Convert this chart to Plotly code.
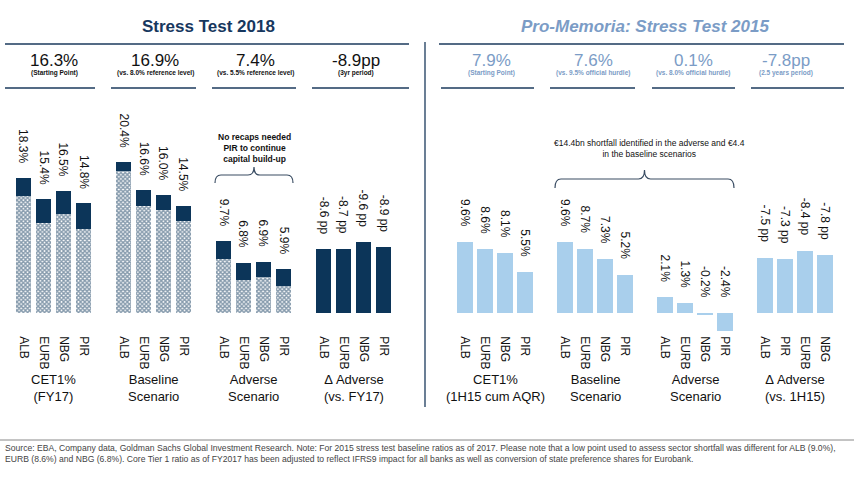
import plotly.graph_objects as go

W, H = 854, 500

banks = ["ALB", "EURB", "NBG", "PIR"]
banks_2015_delta = ["ALB", "PIR", "EURB", "NBG"]

# Stress Test 2018 (totals and hatched lower portion)
cet1_2018 = [18.3, 15.4, 16.5, 14.8]
cet1_2018_hatched = [15.8, 12.2, 13.4, 11.4]
baseline_2018 = [20.4, 16.6, 16.0, 14.5]
baseline_2018_hatched = [19.2, 14.5, 13.9, 12.4]
adverse_2018 = [9.7, 6.8, 6.9, 5.9]
adverse_2018_hatched = [7.3, 4.5, 4.9, 3.6]
delta_2018 = [-8.6, -8.7, -9.6, -8.9]

# Stress Test 2015
cet1_2015 = [9.6, 8.6, 8.1, 5.5]
baseline_2015 = [9.6, 8.7, 7.3, 5.2]
adverse_2015 = [2.1, 1.3, -0.2, -2.4]
delta_2015 = [-7.5, -7.3, -8.4, -7.8]

groups_2018 = ["CET1%<br>(FY17)", "Baseline<br>Scenario", "Adverse<br>Scenario", "Δ Adverse<br>(vs. FY17)"]
groups_2015 = ["CET1%<br>(1H15 cum AQR)", "Baseline<br>Scenario", "Adverse<br>Scenario", "Δ Adverse<br>(vs. 1H15)"]

kpi_2018 = ["16.3%", "16.9%", "7.4%", "-8.9pp"]
kpi_2018_sub = ["(Starting Point)", "(vs. 8.0% reference level)", "(vs. 5.5% reference level)", "(3yr period)"]
kpi_2015 = ["7.9%", "7.6%", "0.1%", "-7.8pp"]
kpi_2015_sub = ["(Starting Point)", "(vs. 9.5% official hurdle)", "(vs. 8.0% official hurdle)", "(2.5 years period)"]

note_2018 = "No recaps needed<br>PIR to continue<br>capital build-up"
note_2015 = "€14.4bn shortfall identified in the adverse and €4.4<br>in the baseline scenarios"
source = ("Source: EBA, Company data, Goldman Sachs Global Investment Research. Note: For 2015 stress test baseline ratios as of 2017. "
          "Please note that a low point used to assess sector shortfall was different for ALB (9.0%),<br>"
          "EURB (8.6%) and NBG (6.8%). Core Tier 1 ratio as of FY2017 has been adjusted to reflect IFRS9 impact for all banks "
          "as well as conversion of state preference shares for Eurobank.")

NAVY = "#0c3559"
LIGHT = "#a9cfec"
STEEL = "#7b9cc6"
LINE = "#1b3a5c"
FONT = "Liberation Sans"

def px(x):
    return x / W

def py(y):
    return 1 - y / H

def pos(g, b):
    return g * 5 + b

fig = go.Figure()

hatch = dict(shape="x", size=3, solidity=0.7, fgcolor=NAVY, bgcolor="white")
annotations = []

def paper_text(x, y, text, size, color, family=FONT, **kw):
    d = dict(x=px(x), y=py(y), xref="paper", yref="paper", text=text, showarrow=False,
             xanchor="center", yanchor="middle", font=dict(family=family, size=size, color=color))
    d.update(kw)
    annotations.append(d)

def value_label(xref, x, y, text):
    annotations.append(dict(x=x, y=y, xref=xref, yref="y", text=text, textangle=90,
                            xanchor="center", yanchor="bottom", yshift=13, showarrow=False,
                            font=dict(family=FONT, size=12, color="#111")))

# left panel stacked bars
for g, (tot, hat) in enumerate([(cet1_2018, cet1_2018_hatched),
                                 (baseline_2018, baseline_2018_hatched),
                                 (adverse_2018, adverse_2018_hatched)]):
    xs = [pos(g, b) for b in range(4)]
    fig.add_trace(go.Bar(x=xs, y=hat, width=0.78, marker=dict(color="white", pattern=hatch, line_width=0),
                         xaxis="x", yaxis="y", showlegend=False, hoverinfo="skip"))
    fig.add_trace(go.Bar(x=xs, y=[t - h for t, h in zip(tot, hat)], width=0.78,
                         marker=dict(color=NAVY, line_width=0),
                         xaxis="x", yaxis="y", showlegend=False, hoverinfo="skip"))
    for b in range(4):
        value_label("x", xs[b], tot[b], f"{tot[b]:.1f}%")

xs = [pos(3, b) for b in range(4)]
fig.add_trace(go.Bar(x=xs, y=[abs(v) for v in delta_2018], width=0.78, marker=dict(color=NAVY, line_width=0),
                     xaxis="x", yaxis="y", showlegend=False, hoverinfo="skip"))
for b in range(4):
    value_label("x", xs[b], abs(delta_2018[b]), f"{delta_2018[b]:.1f} pp")

# right panel bars
for g, vals in enumerate([cet1_2015, baseline_2015, adverse_2015]):
    xs = [pos(g, b) for b in range(4)]
    fig.add_trace(go.Bar(x=xs, y=vals, width=0.78, marker=dict(color=LIGHT, line_width=0),
                         xaxis="x2", yaxis="y", showlegend=False, hoverinfo="skip"))
    for b in range(4):
        value_label("x2", xs[b], max(vals[b], 0), f"{vals[b]:.1f}%")
xs = [pos(3, b) for b in range(4)]
fig.add_trace(go.Bar(x=xs, y=[abs(v) for v in delta_2015], width=0.78, marker=dict(color=LIGHT, line_width=0),
                     xaxis="x2", yaxis="y", showlegend=False, hoverinfo="skip"))
for b in range(4):
    value_label("x2", xs[b], abs(delta_2015[b]), f"{delta_2015[b]:.1f} pp")

# group labels
for g in range(4):
    for xref, labels in (("x", groups_2018), ("x2", groups_2015)):
        annotations.append(dict(x=pos(g, 1.5), y=py(388), xref=xref, yref="paper", text=labels[g],
                                showarrow=False, xanchor="center", yanchor="middle",
                                font=dict(family=FONT, size=13, color="#111")))

# titles
paper_text(208, 26, "<b>Stress Test 2018</b>", 17, "#17375e")
paper_text(645, 26, "<b><i>Pro-Memoria: Stress Test 2015</i></b>", 17, STEEL)

# KPI headers
kpi_x_2018 = [54, 155, 255, 356]
kpi_x_2015 = [491, 593, 693, 786]
for i in range(4):
    paper_text(kpi_x_2018[i], 60, kpi_2018[i], 17, "#111")
    paper_text(kpi_x_2018[i], 72.5, f"<b>{kpi_2018_sub[i]}</b>", 6.5, "#111")
    paper_text(kpi_x_2015[i], 60, kpi_2015[i], 17, STEEL)
    paper_text(kpi_x_2015[i], 72.5, f"<b>{kpi_2015_sub[i]}</b>", 6.5, STEEL)

# brace notes
paper_text(254, 148, f"<b>{note_2018}</b>", 8.5, "#111")
paper_text(649, 148, note_2015, 8.5, "#111")

# footer
paper_text(3, 441, source, 8.6, "#444", align="left", xanchor="left", yanchor="top")

shapes = []
def hline(x0, x1, y, color=LINE, width=1.3):
    shapes.append(dict(type="line", xref="paper", yref="paper", x0=px(x0), x1=px(x1), y0=py(y), y1=py(y),
                       line=dict(color=color, width=width)))

hline(5, 409, 44)
hline(439, 844, 44)
for a, b in [(5, 95), (111, 196), (212, 296), (312, 409), (441, 534), (550, 635), (652, 735), (751, 844)]:
    hline(a, b, 88)
hline(0, 854, 440, color="#888", width=1)
shapes.append(dict(type="line", xref="paper", yref="paper", x0=px(425), x1=px(425), y0=py(42), y1=py(407),
                   line=dict(color=LINE, width=1.3)))

def brace(x0, x1, yend, ytip):
    xc = (x0 + x1) / 2
    ym = (yend + ytip) / 2
    r = 6
    pts = [
        f"M {px(x0)},{py(yend)}",
        f"Q {px(x0)},{py(ym)} {px(x0 + r)},{py(ym)}",
        f"L {px(xc - r)},{py(ym)}",
        f"Q {px(xc)},{py(ym)} {px(xc)},{py(ytip)}",
        f"Q {px(xc)},{py(ym)} {px(xc + r)},{py(ym)}",
        f"L {px(x1 - r)},{py(ym)}",
        f"Q {px(x1)},{py(ym)} {px(x1)},{py(yend)}",
    ]
    shapes.append(dict(type="path", xref="paper", yref="paper", path=" ".join(pts),
                       line=dict(color="#3a4d63", width=1.2)))

brace(215, 293, 183, 167)
brace(555, 734, 188, 170)

axis_common = dict(showgrid=False, zeroline=False, showline=False, ticks="",
                   tickangle=90, tickfont=dict(family=FONT, size=12, color="#111"), fixedrange=True)

fig.update_layout(
    width=W, height=H, margin=dict(l=0, r=0, t=0, b=0),
    paper_bgcolor="white", plot_bgcolor="white",
    barmode="stack", bargap=0,
    xaxis=dict(domain=[0, 0.5], range=[-23.5 / 20, (427 - 23.5) / 20], anchor="y",
               tickvals=[pos(g, b) for g in range(4) for b in range(4)],
               ticktext=banks * 4, **axis_common),
    xaxis2=dict(domain=[0.5, 1], range=[-(465 - 427) / 20, (854 - 465) / 20], anchor="y",
                tickvals=[pos(g, b) for g in range(4) for b in range(4)],
                ticktext=banks * 3 + banks_2015_delta, **axis_common),
    yaxis=dict(domain=[1 - 335.2 / 500, 1 - 128 / 500], range=[-3, 25], visible=False, fixedrange=True),
    annotations=annotations, shapes=shapes,
)

fig.write_html("out.html", config={"displayModeBar": False},
               post_script="document.body.style.margin='0';")
